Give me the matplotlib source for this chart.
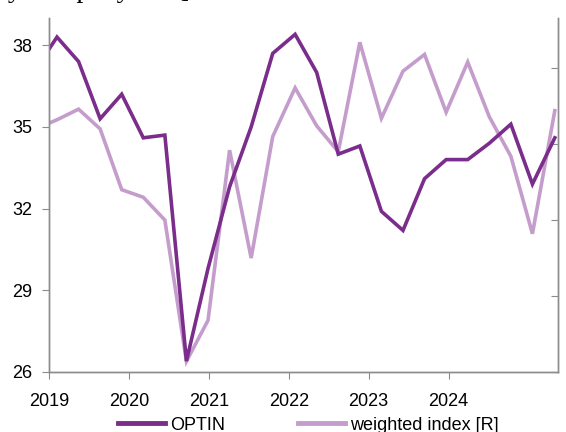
import matplotlib
matplotlib.use('Agg')
import matplotlib.pyplot as plt
from matplotlib import font_manager

# dates of the survey waves (decimal years), first one falls left of the axis
dates = [2018.83, 2019.10, 2019.37, 2019.64, 2019.91, 2020.18, 2020.45, 2020.72,
         2020.99, 2021.26, 2021.53, 2021.80, 2022.08, 2022.35, 2022.62, 2022.89,
         2023.16, 2023.43, 2023.70, 2023.97, 2024.24, 2024.51, 2024.78, 2025.05,
         2025.33]

optin = [37.1, 38.3, 37.4, 35.3, 36.2, 34.6, 34.7, 26.4, 29.8, 32.8, 35.0, 37.7,
         38.4, 37.0, 34.0, 34.3, 31.9, 31.2, 33.1, 33.8, 33.8, 34.4, 35.1, 32.9,
         34.6]

weighted = [106.0, 106.6, 107.3, 106.0, 102.0, 101.5, 100.0, 90.7, 93.4, 104.6,
            97.5, 105.5, 108.7, 106.2, 104.5, 111.7, 106.7, 109.8, 110.9, 107.1,
            110.4, 106.8, 104.2, 99.1, 107.2]

left_ticks = [26, 29, 32, 35, 38]
right_ticks = [90, 95, 100, 105, 110]
years = [2019, 2020, 2021, 2022, 2023, 2024]

names = {f.name for f in font_manager.fontManager.ttflist}
if 'Liberation Sans Narrow' in names:
    plt.rcParams['font.family'] = 'Liberation Sans Narrow'
    fs = 14
else:
    plt.rcParams['font.family'] = 'Liberation Sans'
    fs = 13

dark = '#7b2d8b'
light = '#c59dcc'
grey = '#8c8c8c'

fig = plt.figure(figsize=(5.66, 4.32), dpi=100)
ax = fig.add_axes([49/566, 1-372/432, 509/566, 354/432])
ax2 = ax.twinx()

ax2.plot(dates, weighted, color=light, lw=2.6, solid_joinstyle='miter',
         label='weighted index [R]')
ax.plot(dates, optin, color=dark, lw=2.6, solid_joinstyle='miter', label='OPTIN')
ax.set_zorder(ax2.get_zorder() + 1)
ax.patch.set_visible(False)

ax.set_xlim(2019, 2025.37)
ax.set_ylim(26, 39)
ax2.set_ylim(90, 113.3)
ax.set_yticks(left_ticks)
ax.set_xticks(years)
ax2.set_yticks(right_ticks)
ax2.set_yticklabels([])

for a in (ax, ax2):
    a.spines['top'].set_visible(False)
    for s in ('left', 'right', 'bottom'):
        a.spines[s].set_color(grey)
        a.spines[s].set_linewidth(1.0)
ax.tick_params(axis='x', direction='out', length=5, color=grey,
               labelsize=fs, pad=10)
ax.tick_params(axis='y', direction='out', length=5, color=grey,
               labelsize=fs, pad=7)
ax2.tick_params(axis='y', direction='in', length=5, color=grey)

h1, l1 = ax.get_legend_handles_labels()
h2, l2 = ax2.get_legend_handles_labels()
leg = fig.legend(h1 + h2, l1 + l2, loc='center', bbox_to_anchor=(0.545, 1-425/432),
                 ncol=2, frameon=False, fontsize=fs, handlelength=2.6,
                 handletextpad=0.3, columnspacing=4.0, borderaxespad=0)
for line in leg.get_lines():
    line.set_linewidth(3.5)

# remainder of the title line, cut off at the top edge
fig.text(-0.01, 1.0 + 3/432, 'by company size]', family='Liberation Serif',
         fontsize=20, va='baseline', ha='left')

fig.savefig('out.png', dpi=100)
